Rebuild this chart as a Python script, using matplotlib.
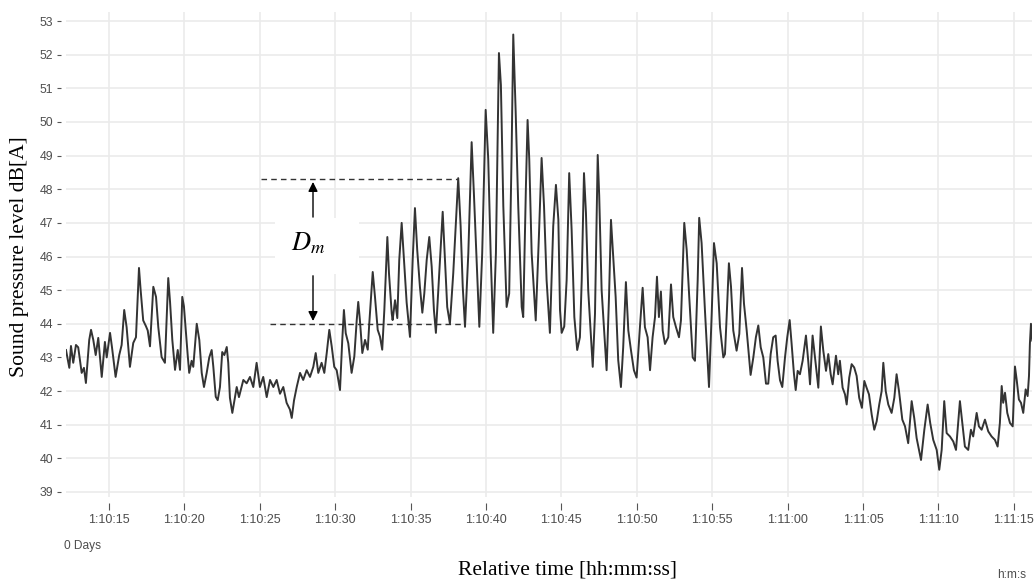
import matplotlib
matplotlib.use("Agg")
import matplotlib.pyplot as plt
from matplotlib.patches import Rectangle

# seconds after 1:10:00 (peaks and troughs)
t = [12.15, 12.37, 12.48, 12.63, 12.81, 12.96, 13.19, 13.34, 13.47, 13.69, 13.81, 13.96,
     14.12, 14.29, 14.52, 14.73, 14.85, 15.07, 15.20, 15.44, 15.68, 15.84, 16.01, 16.17,
     16.39, 16.61, 16.79, 16.99, 17.10, 17.27, 17.45, 17.57, 17.72, 17.94, 18.12, 18.27,
     18.49, 18.71, 18.93, 19.05, 19.20, 19.38, 19.56, 19.71, 19.86, 19.97, 20.11, 20.22,
     20.32, 20.48, 20.59, 20.82, 20.99, 21.15, 21.30, 21.48, 21.65, 21.81, 21.92, 22.08,
     22.21, 22.36, 22.51, 22.65, 22.81, 22.91, 23.02, 23.18, 23.47, 23.62, 23.91, 24.13,
     24.35, 24.57, 24.79, 25.01, 25.23, 25.46, 25.68, 25.90, 26.12, 26.34, 26.56, 26.78,
     27.00, 27.12, 27.27, 27.45, 27.67, 27.88, 28.11, 28.33, 28.55, 28.71, 28.88, 29.10,
     29.28, 29.44, 29.61, 29.77, 29.94, 30.10, 30.32, 30.47, 30.58, 30.70, 30.87, 31.09,
     31.27, 31.43, 31.53, 31.64, 31.80, 31.98, 32.16, 32.26, 32.49, 32.64, 32.82, 32.97,
     33.12, 33.26, 33.46, 33.57, 33.75, 33.81, 33.97, 34.12, 34.25, 34.41, 34.56, 34.74,
     34.96, 35.14, 35.29, 35.44, 35.62, 35.78, 35.91, 36.07, 36.24, 36.40, 36.55, 36.68,
     36.90, 37.13, 37.28, 37.43, 37.61, 37.83, 38.16, 38.32, 38.46, 38.61, 38.83, 39.05,
     39.20, 39.38, 39.56, 39.75, 39.98, 40.15, 40.31, 40.48, 40.66, 40.86, 40.99, 41.15,
     41.37, 41.54, 41.70, 41.81, 41.97, 42.14, 42.37, 42.47, 42.65, 42.76, 42.87, 43.03,
     43.30, 43.51, 43.69, 43.85, 44.02, 44.24, 44.46, 44.64, 44.80, 44.91, 45.02, 45.19,
     45.35, 45.52, 45.68, 45.86, 46.05, 46.23, 46.35, 46.50, 46.63, 46.78, 47.08, 47.23,
     47.41, 47.51, 47.67, 48.00, 48.16, 48.29, 48.44, 48.60, 48.77, 48.95, 49.10, 49.28,
     49.44, 49.62, 49.81, 49.99, 50.21, 50.39, 50.54, 50.72, 50.88, 51.05, 51.21, 51.34,
     51.47, 51.60, 51.72, 51.87, 52.09, 52.27, 52.42, 52.60, 52.80, 52.93, 53.15, 53.31,
     53.48, 53.71, 53.86, 54.04, 54.14, 54.30, 54.52, 54.79, 54.97, 55.12, 55.30, 55.52,
     55.74, 55.85, 55.96, 56.11, 56.25, 56.40, 56.62, 56.80, 56.98, 57.11, 57.29, 57.55,
     57.73, 57.90, 58.06, 58.22, 58.39, 58.57, 58.72, 58.88, 59.05, 59.21, 59.34, 59.50,
     59.65, 59.83, 59.98, 60.14, 60.27, 60.42, 60.54, 60.67, 60.82, 61.00, 61.22, 61.37,
     61.49, 61.66, 61.82, 62.04, 62.21, 62.37, 62.55, 62.70, 62.86, 62.99, 63.21, 63.36,
     63.47, 63.65, 63.81, 63.92, 64.09, 64.25, 64.42, 64.58, 64.75, 64.93, 65.09, 65.24,
     65.40, 65.58, 65.75, 65.91, 66.08, 66.24, 66.35, 66.51, 66.68, 66.90, 67.08, 67.23,
     67.39, 67.61, 67.79, 68.00, 68.23, 68.40, 68.56, 68.85, 69.07, 69.29, 69.46, 69.66,
     69.89, 70.06, 70.22, 70.39, 70.55, 70.77, 70.99, 71.17, 71.43, 71.59, 71.76, 71.98,
     72.16, 72.31, 72.54, 72.69, 72.87, 73.09, 73.31, 73.53, 73.75, 73.93, 74.08, 74.20,
     74.30, 74.42, 74.57, 74.75, 74.93, 75.08, 75.19, 75.34, 75.48, 75.63, 75.79, 75.92,
     76.01, 76.07, 76.14, 76.23]

spl = [43.22, 42.69, 43.34, 42.84, 43.37, 43.30, 42.54, 42.69, 42.24, 43.52, 43.82, 43.52,
       43.07, 43.58, 42.42, 43.46, 43.00, 43.73, 43.30, 42.42, 43.07, 43.37, 44.41, 43.90,
       42.72, 43.43, 43.60, 45.66, 45.00, 44.10, 43.93, 43.80, 43.33, 45.10, 44.80, 43.90,
       43.01, 42.84, 45.36, 44.65, 43.52, 42.63, 43.22, 42.63, 44.80, 44.52, 43.70, 43.07,
       42.54, 42.90, 42.72, 44.00, 43.52, 42.54, 42.12, 42.54, 43.00, 43.22, 42.72, 41.83,
       41.73, 42.12, 43.16, 43.07, 43.31, 42.84, 41.80, 41.35, 42.12, 41.82, 42.33, 42.23,
       42.42, 42.12, 42.84, 42.12, 42.42, 41.82, 42.33, 42.12, 42.33, 41.92, 42.12, 41.65,
       41.45, 41.20, 41.72, 42.12, 42.54, 42.33, 42.62, 42.42, 42.72, 43.13, 42.54, 42.84,
       42.54, 43.13, 43.82, 43.33, 42.72, 42.62, 42.03, 43.52, 44.41, 43.72, 43.42, 42.54,
       43.03, 44.11, 44.65, 44.11, 43.13, 43.52, 43.23, 44.00, 45.54, 44.80, 43.82, 43.62,
       43.23, 44.41, 46.58, 45.49, 44.31, 44.11, 44.70, 44.17, 45.90, 47.00, 45.90, 44.63,
       43.61, 45.90, 47.44, 46.20, 45.10, 44.33, 44.90, 45.90, 46.58, 45.70, 44.40, 43.73,
       45.50, 47.33, 45.90, 44.50, 44.00, 45.50, 48.33, 46.90, 45.10, 43.91, 46.10, 49.40,
       47.87, 45.90, 43.91, 46.10, 50.36, 48.90, 46.10, 43.73, 46.10, 52.05, 51.10, 47.50,
       44.50, 44.90, 49.05, 52.60, 50.30, 47.50, 44.50, 44.20, 48.10, 50.06, 48.90, 46.10,
       44.10, 46.60, 48.93, 47.50, 45.30, 43.73, 46.90, 48.13, 47.10, 44.41, 43.73, 43.92,
       45.30, 48.48, 46.80, 44.20, 43.22, 43.60, 45.30, 48.48, 47.30, 45.00, 42.72, 44.30,
       49.02, 47.80, 45.00, 42.62, 44.80, 47.09, 46.00, 44.80, 42.92, 42.12, 43.30, 45.24,
       43.80, 43.20, 42.62, 42.40, 43.90, 45.07, 43.90, 43.60, 42.62, 43.60, 44.20, 45.40,
       44.20, 44.96, 43.80, 43.40, 43.60, 45.17, 44.20, 43.90, 43.60, 44.10, 47.00, 46.20,
       44.80, 43.00, 42.90, 45.30, 47.15, 46.40, 44.41, 42.12, 44.30, 46.40, 45.80, 43.90,
       43.00, 43.10, 44.20, 45.80, 45.10, 43.80, 43.20, 43.70, 45.66, 44.60, 43.80, 42.48,
       43.00, 43.60, 43.95, 43.30, 43.00, 42.22, 42.22, 43.10, 43.60, 43.65, 42.90, 42.32,
       42.12, 43.00, 43.60, 44.11, 43.40, 42.53, 42.03, 42.60, 42.50, 42.90, 43.65, 42.90,
       42.20, 43.65, 43.00, 42.10, 43.92, 43.20, 42.60, 43.10, 42.50, 42.20, 43.05, 42.50,
       42.90, 42.10, 41.90, 41.60, 42.40, 42.80, 42.70, 42.45, 41.80, 41.50, 42.30, 42.10,
       41.90, 41.30, 40.85, 41.10, 41.60, 42.00, 42.84, 42.00, 41.60, 41.35, 41.80, 42.50,
       42.00, 41.15, 40.95, 40.45, 41.70, 41.20, 40.60, 39.95, 40.85, 41.60, 41.05, 40.55,
       40.25, 39.66, 40.25, 41.70, 40.75, 40.65, 40.50, 40.25, 41.70, 41.05, 40.35, 40.25,
       40.85, 40.65, 41.35, 40.95, 40.85, 41.15, 40.80, 40.65, 40.55, 40.35, 41.05, 42.15,
       41.65, 41.95, 41.35, 41.05, 40.95, 42.73, 42.35, 41.75, 41.65, 41.35, 42.05, 41.85,
       42.45, 43.40, 44.00, 43.50]

tick_secs = [15, 20, 25, 30, 35, 40, 45, 50, 55, 60, 65, 70, 75]
tick_labels = ["1:10:15", "1:10:20", "1:10:25", "1:10:30", "1:10:35", "1:10:40", "1:10:45",
               "1:10:50", "1:10:55", "1:11:00", "1:11:05", "1:11:10", "1:11:15"]
y_ticks = list(range(39, 54))

# D_m annotation levels
dm_top = 48.3
dm_bottom = 44.0

plt.rcParams["mathtext.fontset"] = "stix"
small = dict(family="Liberation Sans", color="#4d4d4d")

fig = plt.figure(figsize=(10.35, 5.83), dpi=100)
ax = fig.add_axes([66 / 1035, 1 - 497 / 583, (1032 - 66) / 1035, (497 - 12) / 583])

ax.plot(t, spl, color="#333333", lw=1.4, zorder=3)

ax.set_xlim(12.15, 76.21)
ax.set_ylim(38.85, 53.27)

ax.grid(True, color="#ebebeb", lw=1.2)
ax.set_axisbelow(True)
for s in ax.spines.values():
    s.set_visible(False)
ax.spines["bottom"].set_position(("outward", 4.5))
ax.spines["left"].set_position(("outward", 3.8))
ax.tick_params(axis="x", length=5.2, width=0.8, color="#555555", pad=2.5)
ax.tick_params(axis="y", length=3, width=0.8, color="#555555", pad=2.5)

ax.set_xticks(tick_secs)
ax.set_xticklabels(tick_labels)
ax.set_yticks(y_ticks)
ax.set_yticklabels([str(v) for v in y_ticks])
for lab in ax.get_xticklabels():
    lab.set_fontfamily("Liberation Sans")
    lab.set_fontsize(9)
    lab.set_color("#4d4d4d")
for lab in ax.get_yticklabels():
    lab.set_fontfamily("Liberation Sans")
    lab.set_fontsize(8.8)
    lab.set_color("#4d4d4d")

# white box behind label
ax.add_patch(Rectangle((26.0, 45.48), 5.58, 1.67, facecolor="white", edgecolor="none", zorder=1))

ax.hlines(dm_top, 25.08, 38.14, colors="#333333", linestyles=(0, (4, 3)), lw=1.0, zorder=4)
ax.hlines(dm_bottom, 25.68, 38.6, colors="#333333", linestyles=(0, (4, 3)), lw=1.0, zorder=4)
ax.annotate("", xy=(28.53, dm_top), xytext=(28.53, 47.09),
            arrowprops=dict(arrowstyle="-|>", color="black", lw=1.0, mutation_scale=14))
ax.annotate("", xy=(28.53, dm_bottom), xytext=(28.53, 45.51),
            arrowprops=dict(arrowstyle="-|>", color="black", lw=1.0, mutation_scale=14))
ax.text(28.2, 46.38, "$D_m$", fontsize=19, ha="center", va="center", zorder=5)

fig.text(20 / 1035, 1 - 257 / 583, "Sound pressure level dB[A]", rotation=90,
         family="Liberation Serif", fontsize=15.6, ha="center", va="center")
fig.text(567 / 1035, 1 - 570 / 583, "Relative time [hh:mm:ss]",
         family="Liberation Serif", fontsize=15.5, ha="center", va="center")
fig.text(64 / 1035, 1 - 546 / 583, "0 Days", fontsize=8.6, ha="left", va="center", **small)
fig.text(1012 / 1035, 1 - 575 / 583, "h:m:s", fontsize=8.6, ha="center", va="center", **small)

fig.savefig("out.png", dpi=100)
